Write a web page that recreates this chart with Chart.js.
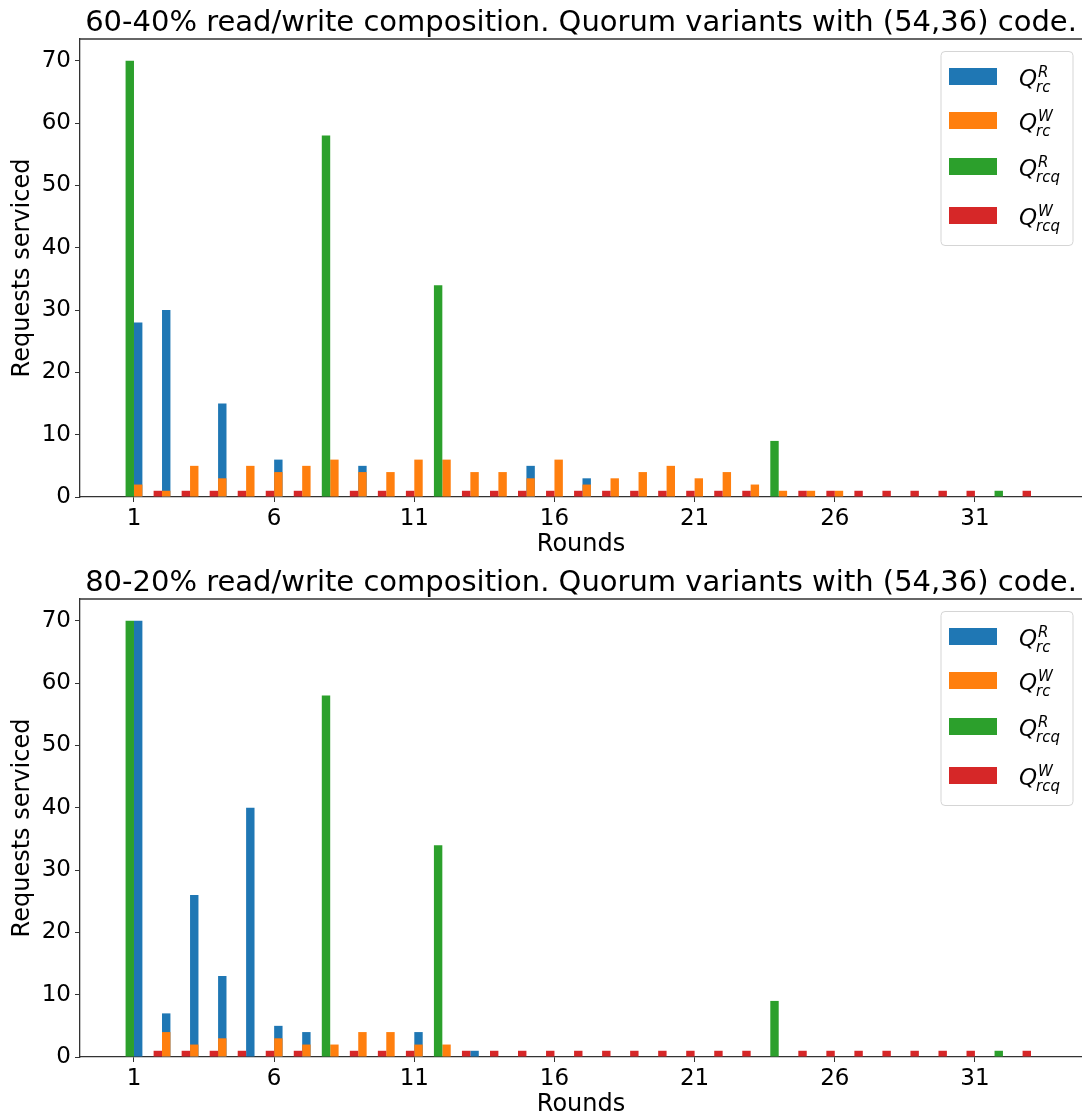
<!DOCTYPE html>
<html lang="en">
<head>
    <meta charset="UTF-8">
    <title>Quorum variants</title>
    <style>
        html, body { margin: 0; padding: 0; background: #fff; overflow: hidden; }
        .panel { position: absolute; left: 0; width: 1082px; height: 560px; }
        #top { top: 0; }
        #bottom { top: 560px; }
    </style>
</head>
<body>

    <div class="panel" id="top"><canvas id="chart6040" width="1082" height="560"></canvas></div>
    <div class="panel" id="bottom"><canvas id="chart8020" width="1082" height="560"></canvas></div>

<script src="https://cdn.jsdelivr.net/npm/chart.js"></script>
<script>
    // rondas (eje x) y marcas de los ejes
    const rounds = [1, 2, 3, 4, 5, 6, 7, 8, 9, 10, 11, 12, 13, 14, 15, 16, 17,
                    18, 19, 20, 21, 22, 23, 24, 25, 26, 27, 28, 29, 30, 31, 32, 33];
    const xTicks = [1, 6, 11, 16, 21, 26, 31];
    const yTicks = [0, 10, 20, 30, 40, 50, 60, 70];

    // 60-40% lectura/escritura
    const rcRead6040   = [28, 30, 0, 15, 0, 6, 0, 0, 5, 0, 0, 0, 0, 0, 5, 0, 3, 0, 0, 0, 0, 0, 0, 0, 0, 0, 0, 0, 0, 0, 0, 0, 0];
    const rcWrite6040  = [2, 1, 5, 3, 5, 4, 5, 6, 4, 4, 6, 6, 4, 4, 3, 6, 2, 3, 4, 5, 3, 4, 2, 1, 1, 1, 0, 0, 0, 0, 0, 0, 0];
    const rcqRead6040  = [70, 0, 0, 0, 0, 0, 0, 58, 0, 0, 0, 34, 0, 0, 0, 0, 0, 0, 0, 0, 0, 0, 0, 9, 0, 0, 0, 0, 0, 0, 0, 1, 0];
    const rcqWrite6040 = [0, 1, 1, 1, 1, 1, 1, 0, 1, 1, 1, 0, 1, 1, 1, 1, 1, 1, 1, 1, 1, 1, 1, 0, 1, 1, 1, 1, 1, 1, 1, 0, 1];

    // 80-20% lectura/escritura
    const rcRead8020   = [70, 7, 26, 13, 40, 5, 4, 0, 0, 0, 4, 0, 1, 0, 0, 0, 0, 0, 0, 0, 0, 0, 0, 0, 0, 0, 0, 0, 0, 0, 0, 0, 0];
    const rcWrite8020  = [0, 4, 2, 3, 0, 3, 2, 2, 4, 4, 2, 2, 0, 0, 0, 0, 0, 0, 0, 0, 0, 0, 0, 0, 0, 0, 0, 0, 0, 0, 0, 0, 0];
    const rcqRead8020  = [70, 0, 0, 0, 0, 0, 0, 58, 0, 0, 0, 34, 0, 0, 0, 0, 0, 0, 0, 0, 0, 0, 0, 9, 0, 0, 0, 0, 0, 0, 0, 1, 0];
    const rcqWrite8020 = [0, 1, 1, 1, 1, 1, 1, 0, 1, 1, 1, 0, 1, 1, 1, 1, 1, 1, 1, 1, 1, 1, 1, 0, 1, 1, 1, 1, 1, 1, 1, 0, 1];

    // leyenda: Q con superindice y subindice
    const seriesSup = ['R', 'W', 'R', 'W'];
    const seriesSub = ['rc', 'rc', 'rcq', 'rcq'];
    const seriesColors = ['#1f77b4', '#ff7f0e', '#2ca02c', '#d62728'];

    Chart.defaults.font.family = "'DejaVu Sans', sans-serif";
    Chart.defaults.color = '#000';

    // borde superior y leyenda dibujada a mano (estilo matplotlib)
    const frameAndLegend = {
        id: 'frameAndLegend',
        afterDraw(chart) {
            const ctx = chart.ctx;
            const a = chart.chartArea;
            ctx.save();
            ctx.strokeStyle = '#333';
            ctx.lineWidth = 1.3;
            ctx.beginPath();
            ctx.moveTo(a.left, a.top);
            ctx.lineTo(a.right, a.top);
            ctx.stroke();

            const bx = 941, by = a.top + 12.5, bw = 132, bh = 194;
            ctx.fillStyle = 'rgba(255,255,255,0.8)';
            ctx.strokeStyle = '#d5d5d5';
            ctx.lineWidth = 1;
            ctx.beginPath();
            ctx.roundRect(bx, by, bw, bh, 4);
            ctx.fill();
            ctx.stroke();

            const rowOffsets = [25, 69, 115, 164];
            seriesColors.forEach((color, i) => {
                const cy = by + rowOffsets[i];
                ctx.fillStyle = color;
                ctx.fillRect(bx + 8, cy - 8.5, 48, 17);
                ctx.fillStyle = '#000';
                ctx.textBaseline = 'alphabetic';
                ctx.textAlign = 'left';
                const qx = bx + 78;
                ctx.font = "italic 23px 'DejaVu Sans'";
                ctx.fillText('Q', qx, cy + 9);
                ctx.font = "italic 15px 'DejaVu Sans'";
                ctx.fillText(seriesSup[i], qx + 19, cy);
                ctx.fillText(seriesSub[i], qx + 17, cy + 15);
            });
            ctx.restore();
        }
    };

    function makeChart(id, title, rcRead, rcWrite, rcqRead, rcqWrite) {
        const values = [rcRead, rcWrite, rcqRead, rcqWrite];
        const stacks = ['rc', 'rc', 'rcq', 'rcq'];
        const orders = [3, 2, 1, 0];
        const datasets = values.map((v, i) => ({
            label: 'Q^' + seriesSup[i] + '_' + seriesSub[i],
            data: v,
            backgroundColor: seriesColors[i],
            borderWidth: 0,
            stack: stacks[i],
            order: orders[i],
            categoryPercentage: 0.6,
            barPercentage: 1.0
        }));

        return new Chart(document.getElementById(id), {
            type: 'bar',
            data: { labels: rounds, datasets: datasets },
            plugins: [frameAndLegend],
            options: {
                responsive: false,
                animation: false,
                layout: { padding: 0 },
                plugins: {
                    legend: { display: false },
                    tooltip: { enabled: false },
                    title: {
                        display: true,
                        text: title,
                        fullSize: false,
                        color: '#000',
                        font: { size: 29, weight: 'normal', lineHeight: 1 },
                        padding: { top: 9, bottom: 1 }
                    }
                },
                scales: {
                    x: {
                        type: 'linear',
                        offset: false,
                        min: -0.926,
                        max: 34.82,
                        afterBuildTicks: (s) => { s.ticks = xTicks.map(v => ({ value: v })); },
                        afterFit: (s) => { s.height = 63; },
                        grid: { drawOnChartArea: false, drawTicks: true, tickLength: 5, color: '#333', offset: false },
                        border: { color: '#333', width: 1.3 },
                        ticks: { font: { size: 23 }, padding: 3, maxRotation: 0, autoSkip: false },
                        title: { display: true, text: 'Rounds', font: { size: 24, lineHeight: 1.2 }, padding: { top: 0, bottom: 1 } }
                    },
                    y: {
                        stacked: false,
                        min: 0,
                        max: 73.5,
                        afterBuildTicks: (s) => { s.ticks = yTicks.map(v => ({ value: v })); },
                        afterFit: (s) => { s.width = 80; },
                        grid: { drawOnChartArea: false, drawTicks: true, tickLength: 5, color: '#333' },
                        border: { color: '#333', width: 1.3 },
                        ticks: { font: { size: 23 }, padding: 4 },
                        title: { display: true, text: 'Requests serviced', font: { size: 24, lineHeight: 1.2 }, padding: { top: 8, bottom: 0 } }
                    }
                }
            }
        });
    }

    makeChart('chart6040', '60-40% read/write composition. Quorum variants with (54,36) code.',
              rcRead6040, rcWrite6040, rcqRead6040, rcqWrite6040);
    makeChart('chart8020', '80-20% read/write composition. Quorum variants with (54,36) code.',
              rcRead8020, rcWrite8020, rcqRead8020, rcqWrite8020);
</script>
</body>
</html>
